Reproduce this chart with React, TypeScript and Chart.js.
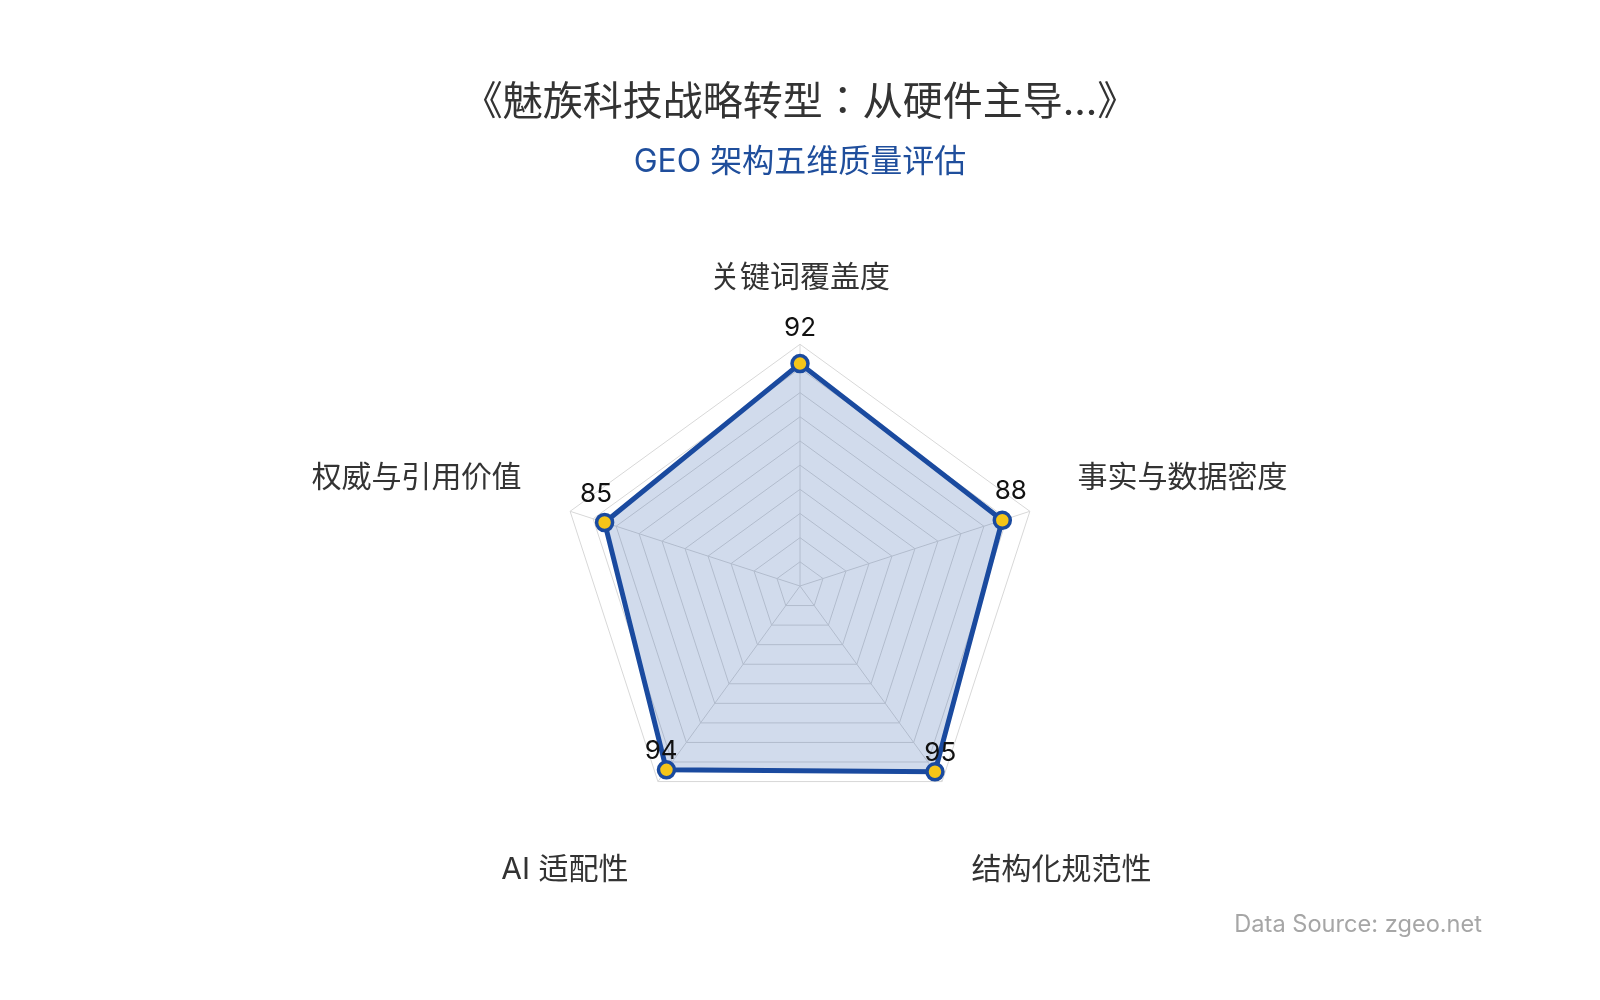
import React, { useEffect, useRef } from 'react';
import { Chart, registerables } from 'chart.js';

Chart.register(...registerables);

const FONT = 'Inter, "Noto Sans CJK JP", sans-serif';

const chartTitle = '《魅族科技战略转型：从硬件主导...》';
const chartSubtitle = 'GEO 架构五维质量评估';
const sourceNote = 'Data Source: zgeo.net';

// axes, clockwise from the top
const dimensions = ['关键词覆盖度', '事实与数据密度', '结构化规范性', 'AI 适配性', '权威与引用价值'];
const scores = [92, 88, 95, 94, 85];

// score labels sit a little outside and above each point
const valueLabels = {
  id: 'valueLabels',
  afterDatasetsDraw(chart: Chart) {
    const { ctx } = chart;
    const meta = chart.getDatasetMeta(0);
    const scale: any = chart.scales.r;
    ctx.save();
    ctx.font = `26px ${FONT}`;
    ctx.fillStyle = '#111111';
    ctx.textAlign = 'center';
    ctx.textBaseline = 'middle';
    meta.data.forEach((pt: any, i: number) => {
      const a = scale.getIndexAngle(i) - Math.PI / 2;
      ctx.fillText(String(scores[i]), pt.x + 9 * Math.cos(a), pt.y + 9 * Math.sin(a) - 26);
    });
    ctx.restore();
  },
};

const sourceText = {
  id: 'sourceText',
  afterDraw(chart: Chart) {
    const { ctx } = chart;
    ctx.save();
    ctx.font = `23.6px ${FONT}`;
    ctx.fillStyle = '#a6a6a6';
    ctx.textAlign = 'right';
    ctx.textBaseline = 'middle';
    ctx.fillText(sourceNote, chart.width - 110, 917);
    ctx.restore();
  },
};

export default function App() {
  const canvasRef = useRef<HTMLCanvasElement | null>(null);

  useEffect(() => {
    if (!canvasRef.current) return;
    Chart.defaults.font.family = FONT;

    const chart = new Chart(canvasRef.current, {
      type: 'radar',
      data: {
        labels: dimensions,
        datasets: [
          {
            label: chartSubtitle,
            data: scores,
            borderColor: '#1a4a9f',
            backgroundColor: 'rgba(26, 74, 159, 0.2)',
            borderWidth: 5,
            fill: true,
            pointRadius: 8,
            pointBorderWidth: 3.5,
            pointBackgroundColor: '#f5c518',
            pointBorderColor: '#1a4a9f',
          },
        ],
      },
      options: {
        responsive: true,
        maintainAspectRatio: false,
        animation: false,
        layout: { padding: { top: 71, bottom: 72 } },
        scales: {
          r: {
            min: 0,
            max: 100,
            ticks: { display: false, stepSize: 10 },
            grid: { color: '#d8d8d8', lineWidth: 1 },
            angleLines: { color: '#d8d8d8', lineWidth: 1 },
            pointLabels: {
              color: '#333333',
              padding: (c: any) => [48, 50, 50, 50, 51][c.index],
              font: (c: any) =>
                c.index === 2 || c.index === 3
                  ? { size: 30, lineHeight: '95px' }
                  : { size: 30, lineHeight: 1.2 },
            },
          },
        },
        plugins: {
          legend: { display: false },
          tooltip: { enabled: false },
          title: {
            display: true,
            text: chartTitle,
            color: '#333333',
            font: { size: 40, weight: 'normal' },
            padding: { top: 0, bottom: 16 },
          },
          subtitle: {
            display: true,
            text: chartSubtitle,
            color: '#1f4e9c',
            font: { size: 32, weight: 'normal' },
            padding: { top: 0, bottom: 77 },
          },
        },
      },
      plugins: [valueLabels, sourceText],
    });

    return () => chart.destroy();
  }, []);

  return (
    <div style={{ position: 'relative', width: '100%', height: 984 }}>
      <canvas ref={canvasRef} />
    </div>
  );
}
